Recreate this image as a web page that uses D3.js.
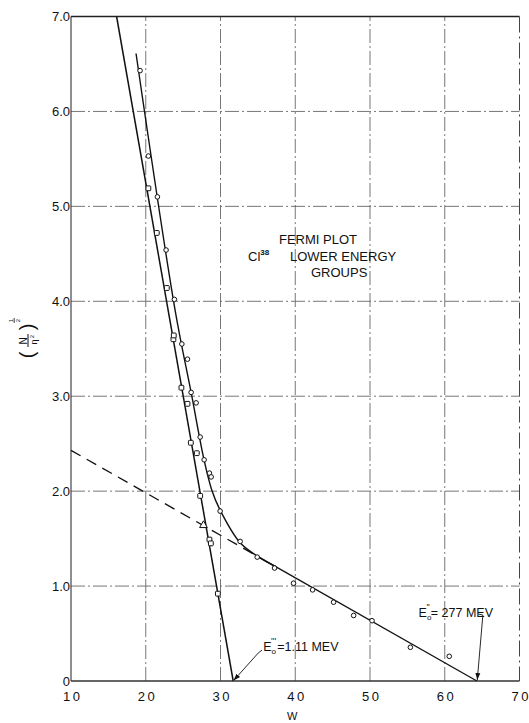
<!DOCTYPE html>
<html>
<head>
<meta charset="utf-8">
<script src="https://cdn.jsdelivr.net/npm/d3@7/dist/d3.min.js"></script>
<style>
  html, body { margin: 0; padding: 0; background: #fff; }
  svg { display: block; font-family: "Liberation Sans", Arial, sans-serif; }
</style>
</head>
<body>
<script>
// ---------- data ----------
const xTicks = [10, 20, 30, 40, 50, 60, 70];
const xTickLabels = ["10", "20", "30", "40", "50", "60", "70"];
const yTicks = [0, 10, 20, 30, 40, 50, 60, 70];
const yTickLabels = ["0", "1.0", "2.0", "3.0", "4.0", "5.0", "6.0", "7.0"];

// upper group (open circles)
const circleW = [19.24, 20.35, 21.56, 22.72, 23.83, 24.83, 25.58, 26.07, 26.74, 27.28, 27.81, 28.52, 28.75, 29.95, 32.63, 34.91, 37.23, 39.77, 42.32, 45.13, 47.81, 50.27, 55.4, 60.6];
const circleY = [64.3, 55.3, 51.0, 45.4, 40.2, 35.5, 33.9, 30.4, 29.3, 25.7, 23.3, 21.9, 21.5, 17.9, 14.7, 13.05, 11.9, 10.3, 9.6, 8.3, 6.9, 6.35, 3.55, 2.6];

// steep group (open squares)
const squareW = [20.35, 21.48, 22.82, 23.7, 23.75, 24.77, 25.58, 26.03, 26.83, 27.28, 28.52, 28.71, 29.65];
const squareY = [51.9, 47.2, 41.4, 36.0, 36.4, 30.9, 29.2, 25.1, 24.0, 19.5, 14.9, 14.5, 9.2];

// single triangle point
const triW = [27.72];
const triY = [16.4];

// fitted lines
const steepLineW = [16.1, 31.7];      // E0''' = 1.11 MeV
const steepLineY = [70, 0];
const curveW = [18.7, 23.93, 26.07, 27.81, 28.84, 29.95, 32.63, 35.08, 37.5];
const curveY = [66.1, 39.05, 30.4, 23.26, 20.1, 18.0, 14.56, 13.08, 12.0];
const shallowW = [35.08, 64.3];       // E0'' = 2.77 MeV
const shallowY = [13.08, 0];
const dashedW = [10, 35.08];
const dashedY = [24.3, 13.08];

// annotation anchors (data units)
const note1 = { text: "=1.11 MEV", sup: "'''", tx: 35.72, ty: 3.15, lead: [[35.55, 3.25], [35.05, 2.95], [31.75, 0.05]] };
const note2 = { text: "= 277 MEV", sup: "''", tx: 56.5, ty: 6.75, lead: [[64.5, 7.05], [65.1, 6.95], [64.35, 0.1]] };

// ---------- drawing ----------
const width = 529, height = 723;
const svg = d3.select("body").append("svg").attr("width", width).attr("height", height);

const x = d3.scaleLinear().domain([10, 70]).range([71, 519.5]);
const y = d3.scaleLinear().domain([0, 70]).range([681, 16.5]);

svg.append("defs").append("marker")
  .attr("id", "arrow").attr("viewBox", "0 0 10 10").attr("refX", 10).attr("refY", 5)
  .attr("markerWidth", 7).attr("markerHeight", 7).attr("markerUnits", "userSpaceOnUse")
  .attr("orient", "auto")
  .append("path").attr("d", "M0,1.5 L10,5 L0,8.5 Z").attr("fill", "#111");

// grid
const grid = svg.append("g");
grid.selectAll("line.v").data(xTicks.slice(1, -1)).join("line")
  .attr("x1", d => x(d)).attr("x2", d => x(d)).attr("y1", y(0)).attr("y2", y(70))
  .attr("stroke", "#666").attr("stroke-width", 0.9).attr("stroke-dasharray", "14,3,2,3");
grid.selectAll("line.h").data(yTicks.slice(1, -1)).join("line")
  .attr("x1", x(10)).attr("x2", x(70)).attr("y1", d => y(d)).attr("y2", d => y(d))
  .attr("stroke", "#666").attr("stroke-width", 0.9).attr("stroke-dasharray", "14,3,2,3");

// frame
svg.append("line").attr("x1", x(10)).attr("x2", x(70)).attr("y1", y(70)).attr("y2", y(70))
  .attr("stroke", "#222").attr("stroke-width", 1.4);
svg.append("line").attr("x1", x(70)).attr("x2", x(70)).attr("y1", y(70)).attr("y2", y(0))
  .attr("stroke", "#444").attr("stroke-width", 1).attr("stroke-dasharray", "16,4,2,4");
svg.append("line").attr("x1", x(10)).attr("x2", x(10)).attr("y1", y(70)).attr("y2", y(0))
  .attr("stroke", "#333").attr("stroke-width", 1.1);
svg.append("line").attr("x1", x(10)).attr("x2", x(70)).attr("y1", y(0)).attr("y2", y(0))
  .attr("stroke", "#333").attr("stroke-width", 1.3);

// axes (labels only)
const xAxis = svg.append("g").attr("transform", `translate(0,${y(0)})`)
  .call(d3.axisBottom(x).tickValues(xTicks).tickFormat((d, i) => xTickLabels[i]).tickSize(0).tickPadding(11));
xAxis.select(".domain").remove();
xAxis.selectAll("text").attr("font-size", 13).attr("letter-spacing", 2.5).attr("dx", 1.2)
  .attr("font-family", "Liberation Sans, Arial, sans-serif").attr("fill", "#111");

const yAxis = svg.append("g").attr("transform", `translate(${x(10)},0)`)
  .call(d3.axisLeft(y).tickValues(yTicks).tickFormat((d, i) => yTickLabels[i]).tickSize(0).tickPadding(1));
yAxis.select(".domain").remove();
yAxis.selectAll("text").attr("font-size", 13).attr("font-family", "Liberation Sans, Arial, sans-serif").attr("fill", "#111");

// axis titles
svg.append("text").attr("x", x(40) - 3).attr("y", 720).attr("text-anchor", "middle")
  .attr("font-size", 11).attr("fill", "#111").text("W");

const yt = svg.append("g").attr("transform", "translate(28,340) rotate(-90)").attr("fill", "#111");
yt.append("text").attr("x", -15).attr("y", 6).attr("font-size", 20).attr("text-anchor", "middle").text("(");
yt.append("text").attr("x", 13).attr("y", 6).attr("font-size", 20).attr("text-anchor", "middle").text(")");
yt.append("text").attr("x", -1).attr("y", -1.5).attr("font-size", 10).attr("text-anchor", "middle").text("N");
yt.append("line").attr("x1", -7).attr("x2", 6).attr("y1", 0).attr("y2", 0).attr("stroke", "#111").attr("stroke-width", 1);
yt.append("text").attr("x", -2).attr("y", 8.5).attr("font-size", 9).attr("text-anchor", "middle").text("η");
yt.append("text").attr("x", 3.5).attr("y", 5.5).attr("font-size", 6).attr("text-anchor", "middle").text("2");
yt.append("text").attr("x", 19.5).attr("y", -15).attr("font-size", 6).attr("text-anchor", "middle").text("1");
yt.append("line").attr("x1", 17).attr("x2", 22).attr("y1", -13.8).attr("y2", -13.8).attr("stroke", "#111").attr("stroke-width", 0.8);
yt.append("text").attr("x", 19.5).attr("y", -8.5).attr("font-size", 6).attr("text-anchor", "middle").text("2");

// lines
const line = d3.line().x(d => x(d[0])).y(d => y(d[1]));
const zip = (a, b) => a.map((v, i) => [v, b[i]]);

svg.append("path").attr("d", line(zip(steepLineW, steepLineY)))
  .attr("fill", "none").attr("stroke", "#111").attr("stroke-width", 1.5);
svg.append("path").attr("d", line.curve(d3.curveCatmullRom.alpha(0.5))(zip(curveW, curveY)))
  .attr("fill", "none").attr("stroke", "#111").attr("stroke-width", 1.4);
line.curve(d3.curveLinear);
svg.append("path").attr("d", line(zip(shallowW, shallowY)))
  .attr("fill", "none").attr("stroke", "#111").attr("stroke-width", 1.3);
svg.append("path").attr("d", line(zip(dashedW, dashedY)))
  .attr("fill", "none").attr("stroke", "#111").attr("stroke-width", 1.3).attr("stroke-dasharray", "11,7");

// markers
svg.append("g").selectAll("circle").data(zip(circleW, circleY)).join("circle")
  .attr("cx", d => x(d[0])).attr("cy", d => y(d[1])).attr("r", 2.3)
  .attr("fill", "#fff").attr("stroke", "#111").attr("stroke-width", 1);
svg.append("g").selectAll("rect").data(zip(squareW, squareY)).join("rect")
  .attr("x", d => x(d[0]) - 2.4).attr("y", d => y(d[1]) - 2.4).attr("width", 4.8).attr("height", 4.8)
  .attr("rx", 0.8).attr("fill", "#fff").attr("stroke", "#111").attr("stroke-width", 1);
svg.append("g").selectAll("path").data(zip(triW, triY)).join("path")
  .attr("transform", d => `translate(${x(d[0])},${y(d[1])})`)
  .attr("d", d3.symbol(d3.symbolTriangle, 26)())
  .attr("fill", "#fff").attr("stroke", "#111").attr("stroke-width", 1);

// title block
const tb = svg.append("g").attr("font-size", 13).attr("fill", "#111");
tb.append("text").attr("x", 279).attr("y", 244).text("FERMI PLOT");
const l2 = tb.append("text").attr("x", 248).attr("y", 261);
l2.append("tspan").text("Cl");
l2.append("tspan").attr("dy", -6.5).attr("font-size", 8).attr("font-weight", "bold").text("38");
l2.append("tspan").attr("x", 290).attr("dy", 6.5).text("LOWER ENERGY");
tb.append("text").attr("x", 311).attr("y", 277).text("GROUPS");

// annotations
function note(n) {
  const g = svg.append("g").attr("fill", "#111");
  const t = g.append("text").attr("x", x(n.tx)).attr("y", y(n.ty)).attr("font-size", 12.5);
  t.append("tspan").text("E");
  t.append("tspan").attr("font-size", 8).attr("dy", 3).attr("dx", 0).text("o");
  t.append("tspan").attr("font-size", 9).attr("dy", -10).attr("dx", -5).text(n.sup);
  t.append("tspan").attr("dy", 7).attr("dx", 1).text(n.text);
  g.append("path").attr("d", line(n.lead))
    .attr("fill", "none").attr("stroke", "#111").attr("stroke-width", 0.9)
    .attr("marker-end", "url(#arrow)");
}
note(note1);
note(note2);
</script>
</body>
</html>
